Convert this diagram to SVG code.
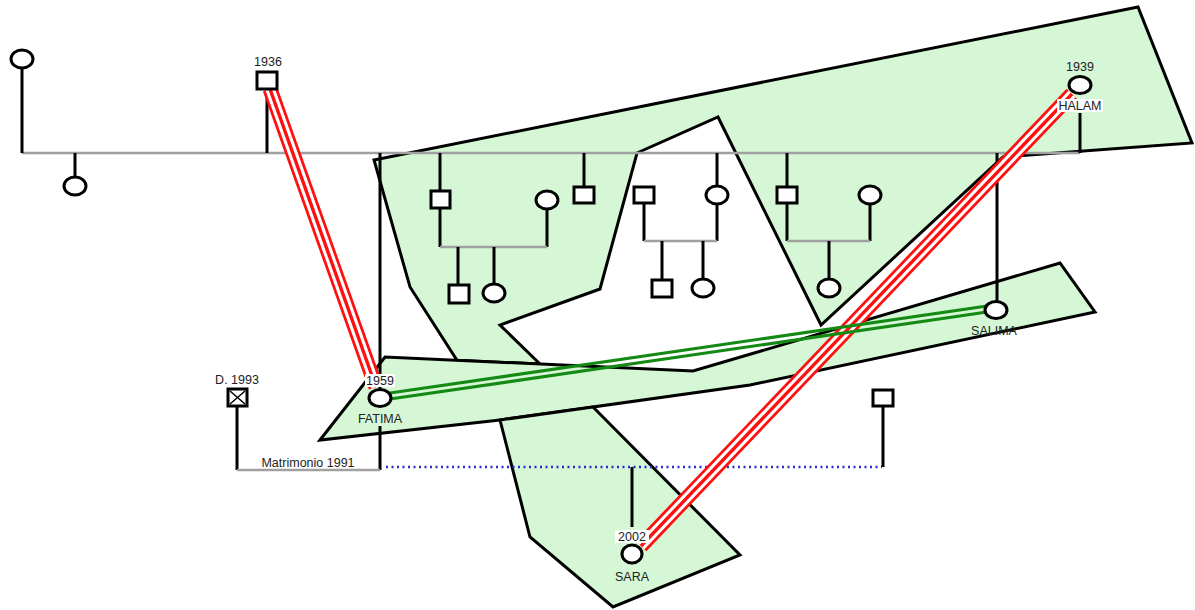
<svg xmlns="http://www.w3.org/2000/svg" width="1195" height="610" viewBox="0 0 1195 610">
<style>
.zone{fill:#d5f7d5;stroke:#000;stroke-width:3;stroke-linejoin:miter}
.gen{stroke:#a0a0a0;stroke-width:2.5;fill:none}
.stem{stroke:#000;stroke-width:3;fill:none}
.node{fill:#fff;stroke:#000;stroke-width:3}
.lbl{font-family:"Liberation Sans",Arial,sans-serif;font-size:12.5px;fill:#222;text-anchor:middle}
.tag{fill:#fff}
.red1{stroke:#ff1010;stroke-width:15;fill:none}
.red2{stroke:#fff;stroke-width:9.5;fill:none}
.red3{stroke:#ff1010;stroke-width:3.4;fill:none}
.grn{stroke:#148a14;stroke-width:3.2;fill:none}
.dot{stroke:#2b2bd0;stroke-width:2.5;stroke-dasharray:2 3.5;fill:none}
</style>

<!-- shaded zones -->
<g id="zones">
  <polygon id="zone-upper" class="zone" points="374,160 1138,7 1192,143 1003,157 821,325 718,117 637,153 600,289 500,325 540,364 457,360.3 410,287"/>
  <polygon id="zone-band" class="zone" points="320,440 385,357 693,371 1060,263 1095,312 750,385 500,420"/>
  <polygon id="zone-lower" class="zone" points="500,420 530,537 613,607 740,555 593,407"/>
</g>

<!-- family lines -->
<g id="connectors">
  <line class="gen" x1="22" y1="153" x2="1080" y2="153"/>
  <line class="stem" x1="22" y1="68" x2="22" y2="153"/>
  <line class="stem" x1="75" y1="153" x2="75" y2="177"/>
  <line class="stem" x1="267" y1="89" x2="267" y2="153"/>
  <line class="stem" x1="1080" y1="113" x2="1080" y2="153"/>
  <line class="stem" x1="380" y1="153" x2="380" y2="389"/>
  <line class="stem" x1="380" y1="426" x2="380" y2="470"/>
  <!-- family 1 -->
  <line class="stem" x1="440" y1="153" x2="440" y2="191"/>
  <line class="stem" x1="440" y1="208" x2="440" y2="247"/>
  <line class="stem" x1="547" y1="209" x2="547" y2="247"/>
  <line class="gen" x1="440" y1="247" x2="547" y2="247"/>
  <line class="stem" x1="458" y1="247" x2="458" y2="285"/>
  <line class="stem" x1="494" y1="247" x2="494" y2="284"/>
  <line class="stem" x1="584" y1="153" x2="584" y2="187"/>
  <!-- family 2 -->
  <line class="stem" x1="717" y1="153" x2="717" y2="186"/>
  <line class="stem" x1="644" y1="203" x2="644" y2="241"/>
  <line class="stem" x1="717" y1="204" x2="717" y2="241"/>
  <line class="gen" x1="644" y1="241" x2="717" y2="241"/>
  <line class="stem" x1="662" y1="241" x2="662" y2="280"/>
  <line class="stem" x1="703" y1="241" x2="703" y2="279"/>
  <!-- family 3 -->
  <line class="stem" x1="787" y1="153" x2="787" y2="187"/>
  <line class="stem" x1="787" y1="203" x2="787" y2="241"/>
  <line class="stem" x1="870" y1="204" x2="870" y2="241"/>
  <line class="gen" x1="787" y1="241" x2="870" y2="241"/>
  <line class="stem" x1="829" y1="241" x2="829" y2="279"/>
  <!-- Salima -->
  <line class="stem" x1="997" y1="153" x2="997" y2="301"/>
  <!-- marriage 1991 -->
  <line class="stem" x1="237" y1="406" x2="237" y2="470"/>
  <line class="gen" x1="237" y1="470" x2="380" y2="470"/>
  <line class="dot" x1="386" y1="467" x2="882" y2="467"/>
  <line class="stem" x1="883" y1="406" x2="883" y2="467"/>
  <line class="stem" x1="632" y1="467" x2="632" y2="527"/>
  <!-- relationship links -->
  <g id="link-1936-fatima">
    <line class="red1" x1="270" y1="89" x2="376" y2="387"/>
    <line class="red2" x1="270" y1="89" x2="376" y2="387"/>
    <line class="red3" x1="270" y1="89" x2="376" y2="387"/>
  </g>
  <g id="link-halam-sara">
    <line class="red1" x1="1072" y1="94" x2="641" y2="546"/>
    <line class="red2" x1="1072" y1="94" x2="641" y2="546"/>
    <line class="red3" x1="1072" y1="94" x2="641" y2="546"/>
  </g>
  <g id="link-fatima-salima">
    <line class="grn" x1="390" y1="393" x2="987" y2="306"/>
    <line class="grn" x1="390" y1="399" x2="987" y2="312"/>
  </g>
</g>

<!-- people -->
<g id="n-top-left"><ellipse class="node" cx="22" cy="59" rx="11" ry="9"/></g>
<g id="n-sister"><ellipse class="node" cx="75" cy="186" rx="11" ry="9"/></g>
<g id="n-1936"><rect class="node" x="257" y="72" width="20" height="17"/><text class="lbl" x="268" y="66">1936</text></g>
<g id="n-halam">
  <ellipse class="node" cx="1080" cy="85" rx="11" ry="8.5"/>
  <text class="lbl" x="1080" y="71">1939</text>
  <rect class="tag" x="1057" y="99" width="46" height="13"/>
  <text class="lbl" x="1080" y="110">HALAM</text>
</g>
<g id="n-fatima">
  <ellipse class="node" cx="380" cy="398" rx="11" ry="8.5"/>
  <rect class="tag" x="365" y="374" width="30" height="13"/>
  <text class="lbl" x="380" y="385">1959</text>
  <text class="lbl" x="380" y="423">FATIMA</text>
</g>
<g id="n-f1-father"><rect class="node" x="431" y="191" width="19" height="17"/></g>
<g id="n-f1-mother"><ellipse class="node" cx="547" cy="200" rx="11" ry="9"/></g>
<g id="n-f1-son"><rect class="node" x="449" y="285" width="20" height="18"/></g>
<g id="n-f1-daughter"><ellipse class="node" cx="494" cy="293" rx="11" ry="9"/></g>
<g id="n-brother"><rect class="node" x="574" y="187" width="20" height="16"/></g>
<g id="n-f2-father"><rect class="node" x="634" y="187" width="20" height="16"/></g>
<g id="n-f2-mother"><ellipse class="node" cx="717" cy="195" rx="11" ry="9"/></g>
<g id="n-f2-son"><rect class="node" x="652" y="280" width="20" height="17"/></g>
<g id="n-f2-daughter"><ellipse class="node" cx="703" cy="288" rx="11" ry="9"/></g>
<g id="n-f3-father"><rect class="node" x="777" y="187" width="20" height="16"/></g>
<g id="n-f3-mother"><ellipse class="node" cx="870" cy="195" rx="11" ry="9"/></g>
<g id="n-f3-daughter"><ellipse class="node" cx="829" cy="288" rx="11" ry="9"/></g>
<g id="n-salima">
  <ellipse class="node" cx="996" cy="310" rx="11" ry="8.5"/>
  <text class="lbl" x="994" y="335">SALIMA</text>
</g>
<g id="n-d1993">
  <rect class="node" x="228" y="389" width="19" height="17"/>
  <path class="stem" d="M230,391 L245,404 M245,391 L230,404" style="stroke-width:1.5"/>
  <text class="lbl" x="237" y="384">D. 1993</text>
  <text class="lbl" x="308" y="467">Matrimonio 1991</text>
</g>
<g id="n-partner"><rect class="node" x="873" y="390" width="20" height="16"/></g>
<g id="n-sara">
  <ellipse class="node" cx="632" cy="554" rx="10" ry="9"/>
  <rect class="tag" x="615" y="530" width="34" height="13"/>
  <text class="lbl" x="632" y="541">2002</text>
  <text class="lbl" x="632" y="581">SARA</text>
</g>
</svg>
